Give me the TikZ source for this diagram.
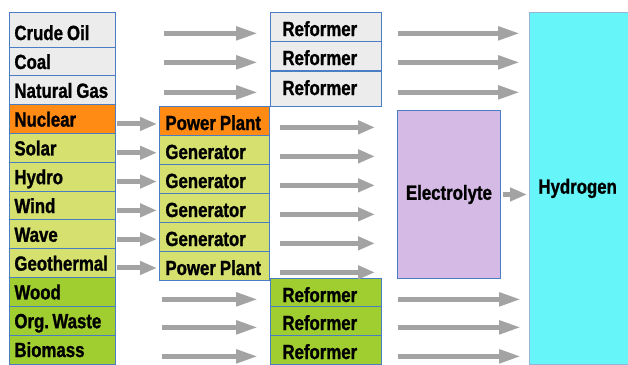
\documentclass[tikz,border=0pt]{standalone}
\usepackage{fontspec}
\setmainfont[FakeStretch=0.82,BoldFeatures={FakeBold=1.2}]{Liberation Sans}
\usetikzlibrary{arrows.meta}
\definecolor{cellline}{RGB}{74,126,196}
\definecolor{outerline}{RGB}{150,180,216}
\definecolor{grayfill}{RGB}{236,236,236}
\definecolor{nuclearfill}{RGB}{255,138,20}
\definecolor{renewfill}{RGB}{213,224,110}
\definecolor{biofill}{RGB}{160,206,48}
\definecolor{elecfill}{RGB}{213,186,230}
\definecolor{hydfill}{RGB}{102,246,250}
\definecolor{arrowgray}{RGB}{163,163,163}
\begin{document}
\begin{tikzpicture}[x=1pt,y=-1pt,
  cell/.style={draw=cellline,line width=.9pt,anchor=base west,inner ysep=0pt,align=left,
    font=\bfseries\fontsize{20.5}{22}\selectfont,execute at begin node={\spaceskip=4pt\relax}},
  source/.style={cell,inner xsep=5pt,text width=96pt,text height=22pt,text depth=7pt},
  plant/.style={cell,inner xsep=6pt,text width=98pt,text height=24pt,text depth=5pt},
  reformer/.style={cell,inner xsep=12pt,text width=87pt,text height=24pt,text depth=5pt},
  block/.style={draw=cellline,line width=.9pt,anchor=north west,inner sep=0pt,
    font=\bfseries\fontsize{20.5}{22}\selectfont},
  feed/.style={draw=arrowgray,line width=5pt,-{Triangle[length=17pt,width=13pt]}},
  flow/.style={feed,-{Triangle[length=22pt,width=13pt]}}]
\path[use as bounding box] (0,0) rectangle (628,364);

\node[source,fill=grayfill,text height=28pt] (crude) at (9,40) {Crude Oil};
\node[source,fill=grayfill] (coal) at (9,69) {Coal};
\node[source,fill=grayfill] (gas) at (9,97.8) {Natural Gas};
\node[source,fill=nuclearfill] (nuclear) at (9,126.6) {Nuclear};
\node[source,fill=renewfill] (solar) at (9,155.4) {Solar};
\node[source,fill=renewfill] (hydro) at (9,184.2) {Hydro};
\node[source,fill=renewfill] (wind) at (9,213) {Wind};
\node[source,fill=renewfill] (wave) at (9,241.8) {Wave};
\node[source,fill=renewfill] (geo) at (9,270.6) {Geothermal};
\node[source,fill=biofill] (wood) at (9,299.4) {Wood};
\node[source,fill=biofill] (waste) at (9,328.2) {Org.\,Waste};
\node[source,fill=biofill] (biomass) at (9,357) {Biomass};

\node[plant,fill=nuclearfill] (ppnuclear) at (159,130) {Power Plant};
\node[plant,fill=renewfill] (gensolar) at (159,159) {Generator};
\node[plant,fill=renewfill] (genhydro) at (159,188) {Generator};
\node[plant,fill=renewfill] (genwind) at (159,217) {Generator};
\node[plant,fill=renewfill] (genwave) at (159,246) {Generator};
\node[plant,fill=renewfill] (ppgeo) at (159,275) {Power Plant};

\node[reformer,fill=grayfill] (refoil) at (270,36) {Reformer};
\node[reformer,fill=grayfill] (refcoal) at (270,65) {Reformer};
\node[reformer,fill=grayfill,text depth=11pt] (refgas) at (270,95) {Reformer};
\node[reformer,fill=biofill] (refwood) at (270,302) {Reformer};
\node[reformer,fill=biofill] (refwaste) at (270,330) {Reformer};
\node[reformer,fill=biofill] (refbio) at (270,359) {Reformer};

\node[block,fill=elecfill,minimum width=103pt,minimum height=168pt] (elec) at (397,110) {Electrolyte};
\node[block,draw=outerline,fill=hydfill,minimum width=100pt,minimum height=352pt,
  inner xsep=9pt,text width=82pt,align=left] (hyd) at (529,12) {Hydrogen};

\draw[flow,shorten <=48pt,shorten >=12pt] (refoil.mid west -| crude.east) -- (refoil.mid west);
\draw[flow,shorten <=48pt,shorten >=12pt] (refcoal.mid west -| coal.east) -- (refcoal.mid west);
\draw[flow,shorten <=48pt,shorten >=12pt] (refgas.mid west -| gas.east) -- (refgas.mid west);
\draw[flow,shorten <=46pt,shorten >=12pt] (refwood.mid west -| wood.east) -- (refwood.mid west);
\draw[flow,shorten <=46pt,shorten >=12pt] (refwaste.mid west -| waste.east) -- (refwaste.mid west);
\draw[flow,shorten <=46pt,shorten >=12pt] (refbio.mid west -| biomass.east) -- (refbio.mid west);

\draw[flow,shorten <=16pt,shorten >=9pt] (refoil.mid east) -- (refoil.mid east -| hyd.west);
\draw[flow,shorten <=16pt,shorten >=9pt] (refcoal.mid east) -- (refcoal.mid east -| hyd.west);
\draw[flow,shorten <=16pt,shorten >=9pt] (refgas.mid east) -- (refgas.mid east -| hyd.west);
\draw[flow,shorten <=16pt,shorten >=8pt] (refwood.mid east) -- (refwood.mid east -| hyd.west);
\draw[flow,shorten <=16pt,shorten >=8pt] (refwaste.mid east) -- (refwaste.mid east -| hyd.west);
\draw[flow,shorten <=16pt,shorten >=8pt] (refbio.mid east) -- (refbio.mid east -| hyd.west);

\draw[feed,shorten <=1pt,shorten >=2pt] (nuclear.mid east) -- (nuclear.mid east -| ppnuclear.west);
\draw[feed,shorten <=1pt,shorten >=2pt] (solar.mid east) -- (solar.mid east -| gensolar.west);
\draw[feed,shorten <=1pt,shorten >=2pt] (hydro.mid east) -- (hydro.mid east -| genhydro.west);
\draw[feed,shorten <=1pt,shorten >=2pt] (wind.mid east) -- (wind.mid east -| genwind.west);
\draw[feed,shorten <=1pt,shorten >=2pt] (wave.mid east) -- (wave.mid east -| genwave.west);
\draw[feed,shorten <=1pt,shorten >=2pt] (geo.mid east) -- (geo.mid east -| ppgeo.west);

\draw[feed,shorten <=10pt,shorten >=22pt] (ppnuclear.mid east) -- (ppnuclear.mid east -| elec.west);
\draw[feed,shorten <=10pt,shorten >=22pt] (gensolar.mid east) -- (gensolar.mid east -| elec.west);
\draw[feed,shorten <=10pt,shorten >=22pt] (genhydro.mid east) -- (genhydro.mid east -| elec.west);
\draw[feed,shorten <=10pt,shorten >=22pt] (genwind.mid east) -- (genwind.mid east -| elec.west);
\draw[feed,shorten <=10pt,shorten >=22pt] (genwave.mid east) -- (genwave.mid east -| elec.west);
\draw[feed,shorten <=10pt,shorten >=22pt] (ppgeo.mid east) -- (ppgeo.mid east -| elec.west);

\draw[feed,shorten <=2pt,shorten >=2pt] (elec.east) -- (elec.east -| hyd.west);
\end{tikzpicture}
\end{document}
